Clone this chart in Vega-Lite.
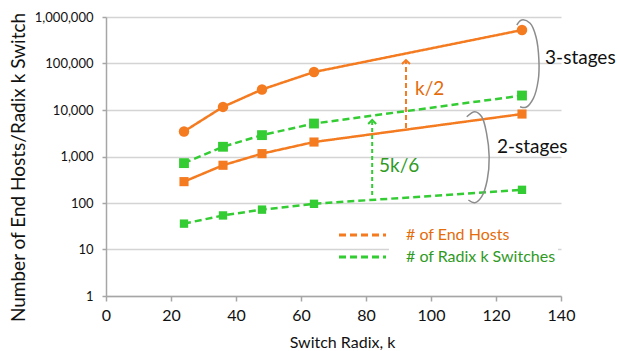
{
  "$schema": "https://vega.github.io/schema/vega-lite/v6.json",
  "width": 455,
  "height": 279,
  "autosize": "none",
  "padding": {"left": 106, "top": 17, "right": 57, "bottom": 55},
  "background": "white",
  "config": {
    "view": {"stroke": null},
    "font": "Lato",
    "axis": {"labelFont": "Lato", "titleFont": "Lato", "labelColor": "#111", "titleColor": "#111", "titleFontWeight": "normal", "domainColor": "#a6a6a6", "tickColor": "#a6a6a6", "gridColor": "#d4d4d4", "gridWidth": 1.5, "domainWidth": 1.5, "tickWidth": 1.5, "labelFlush": false}
  },
  "layer": [
    {
      "data": {"values": [
        {"k": 24, "value": 3456, "series": "3-stage hosts", "type": "# of End Hosts"},
        {"k": 36, "value": 11664, "series": "3-stage hosts", "type": "# of End Hosts"},
        {"k": 48, "value": 27648, "series": "3-stage hosts", "type": "# of End Hosts"},
        {"k": 64, "value": 65536, "series": "3-stage hosts", "type": "# of End Hosts"},
        {"k": 128, "value": 524288, "series": "3-stage hosts", "type": "# of End Hosts"},
        {"k": 24, "value": 720, "series": "3-stage switches", "type": "# of Radix k Switches"},
        {"k": 36, "value": 1620, "series": "3-stage switches", "type": "# of Radix k Switches"},
        {"k": 48, "value": 2880, "series": "3-stage switches", "type": "# of Radix k Switches"},
        {"k": 64, "value": 5120, "series": "3-stage switches", "type": "# of Radix k Switches"},
        {"k": 128, "value": 20480, "series": "3-stage switches", "type": "# of Radix k Switches"},
        {"k": 24, "value": 288, "series": "2-stage hosts", "type": "# of End Hosts"},
        {"k": 36, "value": 648, "series": "2-stage hosts", "type": "# of End Hosts"},
        {"k": 48, "value": 1152, "series": "2-stage hosts", "type": "# of End Hosts"},
        {"k": 64, "value": 2048, "series": "2-stage hosts", "type": "# of End Hosts"},
        {"k": 128, "value": 8192, "series": "2-stage hosts", "type": "# of End Hosts"},
        {"k": 24, "value": 36, "series": "2-stage switches", "type": "# of Radix k Switches"},
        {"k": 36, "value": 54, "series": "2-stage switches", "type": "# of Radix k Switches"},
        {"k": 48, "value": 72, "series": "2-stage switches", "type": "# of Radix k Switches"},
        {"k": 64, "value": 96, "series": "2-stage switches", "type": "# of Radix k Switches"},
        {"k": 128, "value": 192, "series": "2-stage switches", "type": "# of Radix k Switches"}
      ]},
      "layer": [
        {
          "mark": {"type": "line", "strokeWidth": 2.5},
          "encoding": {
            "x": {"field": "k", "type": "quantitative",
              "scale": {"domain": [0, 140], "nice": false, "zero": false},
              "axis": {"values": [0, 20, 40, 60, 80, 100, 120, 140], "grid": false, "tickSize": 5, "labelFontSize": 16, "labelPadding": 6, "labelFlush": false, "title": "Switch Radix, k", "titleFontSize": 16, "titleX": 236, "titleY": 46, "titleBaseline": "middle", "titleAlign": "center"}},
            "y": {"field": "value", "type": "quantitative",
              "scale": {"type": "log", "domain": [1, 1000000], "nice": false},
              "axis": {"values": [1, 10, 100, 1000, 10000, 100000, 1000000], "format": ",d", "tickSize": 4, "labelFontSize": 13, "labelPadding": 9, "title": "Number of End Hosts/Radix k Switch", "titleFontSize": 19, "titleAngle": -90, "titleX": -88, "titleY": 150, "titleBaseline": "middle", "titleAlign": "center"}},
            "color": {"field": "type", "type": "nominal",
              "scale": {"domain": ["# of End Hosts", "# of Radix k Switches"], "range": ["#f47b20", "#33cc33"]},
              "legend": {"title": null, "orient": "none", "legendX": 283, "legendY": 208, "direction": "vertical",
                "symbolType": "M-30,0H-6.5", "symbolStrokeWidth": 3, "symbolSize": 16, "symbolDash": [7, 4],
                "labelFontSize": 16, "labelFont": "Lato", "labelOffset": -1, "fillColor": "white", "padding": 2, "rowPadding": 6,
                "symbolOffset": 0,
                "encode": {"labels": {"update": {"fill": [{"test": "datum.label === '# of End Hosts'", "value": "#e46c0a"}, {"value": "#2f9a1f"}]}}}}},
            "strokeDash": {"field": "type", "type": "nominal",
              "scale": {"domain": ["# of End Hosts", "# of Radix k Switches"], "range": [[1, 0], [7, 4]]},
              "legend": null},
            "detail": {"field": "series"}
          }
        },
        {
          "mark": {"type": "point", "filled": true, "opacity": 1},
          "encoding": {
            "x": {"field": "k", "type": "quantitative"},
            "y": {"field": "value", "type": "quantitative"},
            "fill": {"field": "type", "type": "nominal",
              "scale": {"domain": ["# of End Hosts", "# of Radix k Switches"], "range": ["#f47b20", "#33cc33"]}, "legend": null},
            "shape": {"field": "series", "type": "nominal",
              "scale": {"domain": ["3-stage hosts", "3-stage switches", "2-stage hosts", "2-stage switches"], "range": ["circle", "square", "square", "square"]}, "legend": null},
            "size": {"field": "series", "type": "nominal",
              "scale": {"domain": ["3-stage hosts", "3-stage switches", "2-stage hosts", "2-stage switches"], "range": [110, 70, 70, 70]}, "legend": null}
          }
        }
      ]
    },
    {
      "data": {"values": [
        {"arc": "3", "i": 1, "k": 126.4, "value": 672900},
        {"arc": "3", "i": 2, "k": 127.9, "value": 861000},
        {"arc": "3", "i": 3, "k": 130.5, "value": 731800},
        {"arc": "3", "i": 4, "k": 132.3, "value": 376900},
        {"arc": "3", "i": 5, "k": 133.2, "value": 118900},
        {"arc": "3", "i": 6, "k": 133.0, "value": 44160},
        {"arc": "3", "i": 7, "k": 131.5, "value": 17850},
        {"arc": "3", "i": 8, "k": 129.2, "value": 11430},
        {"arc": "3", "i": 9, "k": 127.4, "value": 11770},
        {"arc": "2", "i": 1, "k": 111.0, "value": 7177},
        {"arc": "2", "i": 2, "k": 113.5, "value": 9192},
        {"arc": "2", "i": 3, "k": 115.6, "value": 7177},
        {"arc": "2", "i": 4, "k": 117.1, "value": 3155},
        {"arc": "2", "i": 5, "k": 117.9, "value": 990},
        {"arc": "2", "i": 6, "k": 117.3, "value": 312},
        {"arc": "2", "i": 7, "k": 115.6, "value": 136.6},
        {"arc": "2", "i": 8, "k": 113.5, "value": 101.5},
        {"arc": "2", "i": 9, "k": 111.5, "value": 116}
      ]},
      "mark": {"type": "line", "interpolate": "catmull-rom", "color": "#8c8c8c", "strokeWidth": 1.5},
      "encoding": {
        "x": {"field": "k", "type": "quantitative"},
        "y": {"field": "value", "type": "quantitative"},
        "detail": {"field": "arc"},
        "order": {"field": "i", "type": "quantitative"}
      }
    },
    {
      "data": {"values": [{"k": 92.3, "from": 4100, "to": 112000, "tip": 118500}]},
      "layer": [
        {"mark": {"type": "rule", "color": "#f47b20", "strokeWidth": 2, "strokeDash": [5, 3]},
          "encoding": {"x": {"field": "k", "type": "quantitative"}, "y": {"field": "from", "type": "quantitative"}, "y2": {"field": "to"}}},
        {"mark": {"type": "point", "shape": "M-1,1L0,0L1,1", "filled": false, "color": "#f47b20", "strokeWidth": 2, "size": 64, "opacity": 1},
          "encoding": {"x": {"field": "k", "type": "quantitative"}, "y": {"field": "tip", "type": "quantitative"}}}
      ]
    },
    {
      "data": {"values": [{"k": 81.9, "from": 148, "to": 5600, "tip": 6095}]},
      "layer": [
        {"mark": {"type": "rule", "color": "#33cc33", "strokeWidth": 2, "strokeDash": [4, 3]},
          "encoding": {"x": {"field": "k", "type": "quantitative"}, "y": {"field": "from", "type": "quantitative"}, "y2": {"field": "to"}}},
        {"mark": {"type": "point", "shape": "M-1,1L0,0L1,1", "filled": false, "color": "#33cc33", "strokeWidth": 2, "size": 64, "opacity": 1},
          "encoding": {"x": {"field": "k", "type": "quantitative"}, "y": {"field": "tip", "type": "quantitative"}}}
      ]
    },
    {
      "data": {"values": [
        {"k": 95.1, "value": 28290, "label": "k/2", "role": "hosts"},
        {"k": 84.0, "value": 625, "label": "5k/6", "role": "switches"},
        {"k": 135.1, "value": 131300, "label": "3-stages", "role": "stage"},
        {"k": 120.3, "value": 1600, "label": "2-stages", "role": "stage"}
      ]},
      "mark": {"type": "text", "align": "left", "baseline": "middle", "fontSize": 19, "font": "Lato"},
      "encoding": {
        "x": {"field": "k", "type": "quantitative"},
        "y": {"field": "value", "type": "quantitative"},
        "text": {"field": "label"},
        "color": {"field": "role", "type": "nominal", "scale": {"domain": ["hosts", "switches", "stage"], "range": ["#e46c0a", "#2f9a1f", "#111111"]}, "legend": null}
      }
    }
  ],
  "resolve": {"scale": {"color": "independent"}}
}
